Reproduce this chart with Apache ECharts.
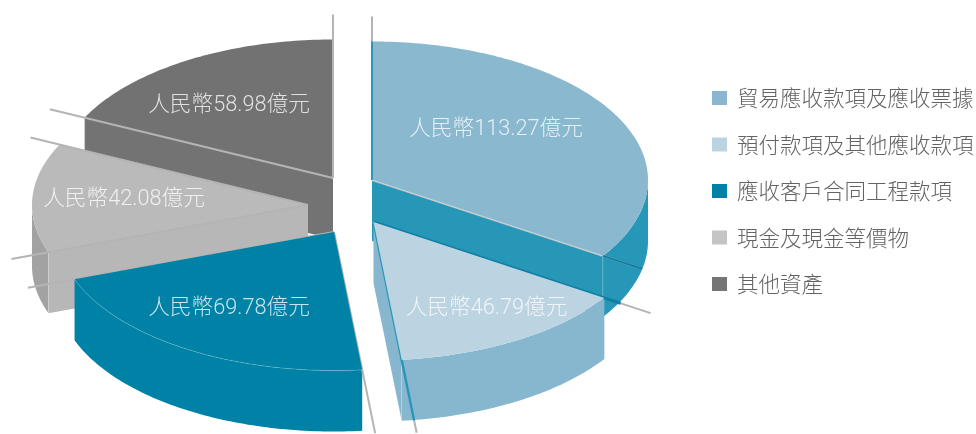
<!DOCTYPE html>
<html>
<head>
<meta charset="utf-8">
<script src="https://cdn.jsdelivr.net/npm/echarts@6/dist/echarts.min.js"></script>
<style>html,body{margin:0;padding:0;background:#fff}#chart{width:976px;height:434px}</style>
</head>
<body>
<div id="chart"></div>
<script>
// Asset mix, RMB 100 million
const categories = ['貿易應收款項及應收票據', '預付款項及其他應收款項', '應收客戶合同工程款項', '現金及現金等價物', '其他資產'];
const values = [113.27, 46.79, 69.78, 42.08, 58.98];

// Colours of each slice
const legendColors = ['#8ab7cf', '#bcd3e2', '#0080a6', '#c4c5c7', '#757575'];
const topColors = ['#89b8cf', '#bcd3e2', '#0081a6', '#b9bab9', '#727272'];
const sideColors = ['#2797b8', '#86b7ce', '#0081a6', '#a2a2a2', '#727272'];
const faceColors = ['#2797b8', '#86b7ce', '#0081a6', '#b6b7b6', '#737373'];

// Pie projection and how far each slice is pulled from the centre
const pie = { cx: 353, cy: 200, rx: 276, ry: 138.5, depth: 61 };
const explode = [[19, -20], [20.5, 22], [-19, 32], [-45, 5], [-20, -22]];
const labelOffset = [[124, -50.5], [113, 86.5], [-105, 76.5], [-184, -5.5], [-104, -72.5]];
// How far the two radial rules of each slice reach, relative to the rim
const edgeReach = [[1.18, 1.17], [1.2, 1.53], [1.46, 1.18], [1.143, 1.117], [1.14, 1.18]];
// Rules drawn over the slice's own top rather than tucked under its edge
const ruleOverTop = [false, false, false, true, true];
// Coloured stretches laid along the rules: slice, edge, from, to, colour, width, above top
const edgeTints = [
  [0, 0, 0, 1, '#2b97b8', 2, true],
  [0, 1, 0, 1, 'rgba(255,255,255,0.45)', 1, true],
  [0, 1, 1, 1.17, '#0f7fa5', 2, true],
  [1, 0, 0, 1.07, '#0f7fa5', 3, false],
  [1, 1, 0, 1.44, '#2796b7', 2.4, false]
];

const total = values.reduce((a, b) => a + b, 0);
const spans = [];
values.reduce((start, v) => {
  const end = start + v / total * 360;
  spans.push([start, end]);
  return end;
}, 0);

const rad = d => d * Math.PI / 180;
const project = (ox, oy, t, f = 1) => [ox + pie.rx * f * Math.sin(rad(t)), oy - pie.ry * f * Math.cos(rad(t))];

function arcPoints(ox, oy, from, to, dy = 0) {
  const pts = [];
  const n = Math.max(2, Math.ceil(Math.abs(to - from)));
  for (let i = 0; i <= n; i++) {
    const p = project(ox, oy, from + (to - from) * i / n);
    pts.push([p[0], p[1] + dy]);
  }
  return pts;
}

function poly(points, fill) {
  return { type: 'polygon', shape: { points }, style: { fill, stroke: null } };
}
function seg(a, b, stroke, lineWidth, blend) {
  const style = { stroke, lineWidth, fill: null };
  if (blend) style.blend = blend;
  return { type: 'line', shape: { x1: a[0], y1: a[1], x2: b[0], y2: b[1] }, style };
}

// Draws one slice: outer wall, cut faces, rules, top, tints and value label
function drawSlice(i, value) {
  const [ts, te] = spans[i];
  const ox = pie.cx + explode[i][0], oy = pie.cy + explode[i][1];
  const h = pie.depth;
  const kids = [];

  const a = Math.max(ts, 90), b = Math.min(te, 270);
  if (b > a) {
    const upper = arcPoints(ox, oy, a, b);
    const lower = arcPoints(ox, oy, b, a, h);
    kids.push(poly(upper.concat(lower), sideColors[i]));
  }
  const face = t => {
    const p = project(ox, oy, t);
    kids.push(poly([[ox, oy], p, [p[0], p[1] + h], [ox, oy + h]], faceColors[i]));
    kids.push(seg(p, [p[0], p[1] + h], 'rgba(255,255,255,0.22)', 1));
  };
  if (Math.sin(rad(ts)) < -1e-6) face(ts);
  if (Math.sin(rad(te)) > 1e-6) face(te);

  const rules = () => [ts, te].forEach((t, e) => {
    kids.push(seg([ox, oy], project(ox, oy, t, edgeReach[i][e]), '#b4b4b4', 2, 'multiply'));
  });
  const tint = overTop => edgeTints.forEach(k => {
    if (k[0] === i && k[6] === overTop) {
      const t = k[1] === 0 ? ts : te;
      kids.push(seg(project(ox, oy, t, k[2]), project(ox, oy, t, k[3]), k[4], k[5]));
    }
  });
  if (!ruleOverTop[i]) rules();
  tint(false);

  kids.push(poly([[ox, oy]].concat(arcPoints(ox, oy, ts, te)), topColors[i]));
  if (i === 2) {
    kids.push({
      type: 'polyline',
      shape: { points: arcPoints(ox, oy, ts, te) },
      style: { stroke: 'rgba(255,255,255,0.28)', lineWidth: 0.7, fill: null }
    });
  }
  if (ruleOverTop[i]) rules();
  tint(true);

  kids.push({
    type: 'text',
    style: {
      x: ox + labelOffset[i][0], y: oy + labelOffset[i][1],
      text: '人民幣' + value.toFixed(2) + '億元',
      fill: 'rgba(255,255,255,0.78)',
      font: '300 21.7px Roboto,"Noto Sans CJK TC",sans-serif',
      align: 'center', verticalAlign: 'middle'
    }
  });
  return { type: 'group', children: kids };
}

// Back slices are painted first so the nearer ones overlap them
const depthRank = spans
  .map((s, i) => [i, -Math.cos(rad((s[0] + s[1]) / 2))])
  .sort((p, q) => p[1] - q[1])
  .map(p => p[0]);

const chart = echarts.init(document.getElementById('chart'), null, { renderer: 'canvas' });
chart.setOption({
  animation: false,
  backgroundColor: '#ffffff',
  legend: {
    left: 707,
    top: 81,
    orient: 'vertical',
    icon: 'rect',
    itemWidth: 15,
    itemHeight: 14,
    itemGap: 22.5,
    selectedMode: false,
    data: categories,
    textStyle: {
      color: '#636363',
      fontFamily: '"Noto Sans CJK TC",sans-serif',
      fontSize: 21.5,
      fontWeight: 300,
      lineHeight: 24,
      padding: [0, 0, 0, 5]
    }
  },
  series: categories.map((name, i) => ({
    type: 'custom',
    name,
    coordinateSystem: 'none',
    z: 2 + depthRank.indexOf(i),
    silent: true,
    clip: false,
    itemStyle: { color: legendColors[i] },
    data: [values[i]],
    renderItem: (params, api) => drawSlice(i, api.value(0))
  }))
});
</script>
</body>
</html>
